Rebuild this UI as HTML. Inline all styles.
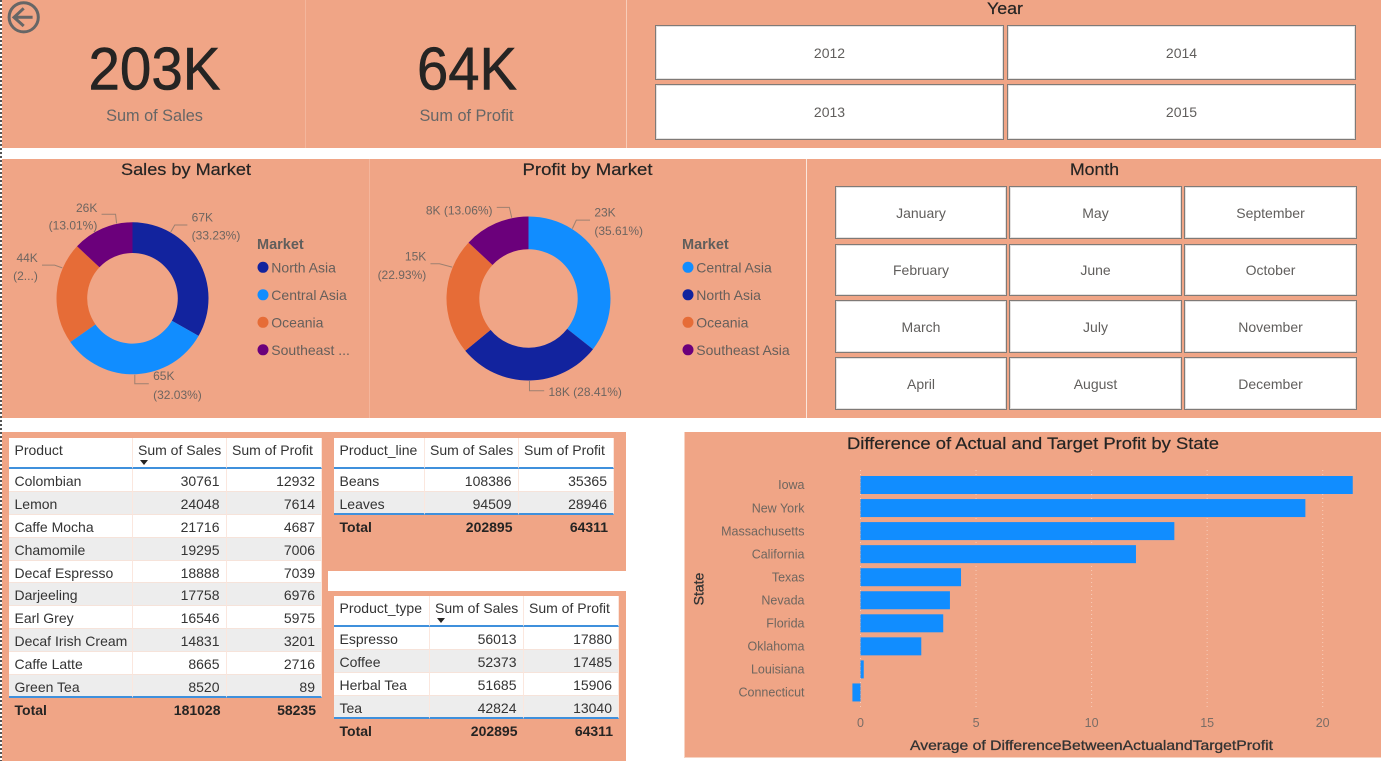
<!DOCTYPE html>
<html lang="en">
<head>
<meta charset="utf-8">
<title>Sales and Profit Dashboard</title>
<style>
html,body{margin:0;padding:0;background:#fff;}
body{width:1381px;height:761px;position:relative;overflow:hidden;font-family:"Liberation Sans",sans-serif;color:#252423;}
.abs{position:absolute;}
.panel{position:absolute;background:#F0A586;}
.btn{position:absolute;box-sizing:border-box;background:#fff;border:1px solid #7f7a77;box-shadow:inset 0 0 0 1px #e4e2e1;color:#605E5C;font-size:14px;display:flex;align-items:center;justify-content:center;padding:0;font-family:"Liberation Sans",sans-serif;}
svg.layer{position:absolute;overflow:visible;}
svg text{font-family:"Liberation Sans",sans-serif;}
.tbl{position:absolute;display:grid;font-size:14px;color:#333;}
.tr{display:contents;}
.tbl .c{box-sizing:border-box;white-space:nowrap;overflow:visible;padding:0 6px 0 5.5px;line-height:25px;border-right:1px solid #fbe7de;border-bottom:1px solid #f6e3da;background:#fff;}
.tbl .c.n{text-align:right;}
.tbl .h .c{background:#fff;border-bottom:2px solid #3f90dc;line-height:25px;position:relative;}
.tbl .g .c{background:#ededed;}
.tbl .l .c{border-bottom:2px solid #3f90dc;}
.tbl .t .c{background:transparent;border:0;font-weight:bold;color:#252423;line-height:24px;}
.arrow{position:absolute;width:0;height:0;border-left:4px solid transparent;border-right:4px solid transparent;border-top:5px solid #252423;}
.title{fill:#252423;stroke:#252423;stroke-width:.2px;}
.kpi{fill:#252423;stroke:#252423;stroke-width:.6px;}
</style>
</head>
<body>

<div class="abs" style="left:0;top:0;width:2px;height:761px;background:repeating-linear-gradient(to bottom,#555 0,#555 2px,#fff 2px,#fff 4px);"></div>

<div class="panel" style="left:2px;top:0;width:1379px;height:148px;"></div>
<div class="panel" style="left:2px;top:159px;width:1379px;height:259px;"></div>
<div class="panel" style="left:2px;top:432px;width:624px;height:329px;"></div>
<div class="abs" style="left:328px;top:571px;width:298px;height:20px;background:#fff;"></div>
<div class="panel" style="left:684px;top:432px;width:697px;height:326px;border-left:1px solid #f7d3c2;border-bottom:1px solid #f7d3c2;box-sizing:border-box;"></div>

<div class="abs" style="left:305px;top:0;width:1px;height:148px;background:#f4b69c;"></div>
<div class="abs" style="left:626px;top:0;width:1px;height:148px;background:#f8cdb9;"></div>
<div class="abs" style="left:369px;top:159px;width:1px;height:259px;background:#f4b69c;"></div>
<div class="abs" style="left:806px;top:159px;width:1px;height:259px;background:#fbe6dc;"></div>

<svg class="layer" style="left:0;top:0;" width="48" height="36" viewBox="0 0 48 36">
  <circle cx="23.7" cy="17.3" r="14.6" fill="none" stroke="#666" stroke-width="3"/>
  <path d="M32.6 17.3H13.8M23.7 8.3L14 17.3L23.7 26" fill="none" stroke="#666" stroke-width="3"/>
</svg>

<svg class="layer" style="left:0;top:0;pointer-events:none;" width="1381" height="761" viewBox="0 0 1381 761">
  <text class="kpi" x="88.5" y="89.5" font-size="60" textLength="132" lengthAdjust="spacingAndGlyphs">203K</text>
  <text x="154.5" y="121" font-size="16.3" fill="#666" text-anchor="middle">Sum of Sales</text>
  <text class="kpi" x="417" y="89.5" font-size="60" textLength="100" lengthAdjust="spacingAndGlyphs">64K</text>
  <text x="466.5" y="121" font-size="16.3" fill="#666" text-anchor="middle">Sum of Profit</text>
  <text class="title" x="987" y="14" font-size="17" textLength="36" lengthAdjust="spacingAndGlyphs">Year</text>
  <text class="title" x="121" y="175" font-size="17" textLength="130" lengthAdjust="spacingAndGlyphs">Sales by Market</text>
  <text class="title" x="522.5" y="175" font-size="17" textLength="130" lengthAdjust="spacingAndGlyphs">Profit by Market</text>
  <text class="title" x="1070" y="175" font-size="17" textLength="49" lengthAdjust="spacingAndGlyphs">Month</text>
  <text class="title" x="847" y="449" font-size="17" textLength="372" lengthAdjust="spacingAndGlyphs">Difference of Actual and Target Profit by State</text>
</svg>

<button class="btn" style="left:655px;top:25px;width:349px;height:55px;">2012</button>
<button class="btn" style="left:1007px;top:25px;width:349px;height:55px;">2014</button>
<button class="btn" style="left:655px;top:84px;width:349px;height:56px;">2013</button>
<button class="btn" style="left:1007px;top:84px;width:349px;height:56px;">2015</button>

<button class="btn" style="left:835px;top:186px;width:172px;height:53px;">January</button>
<button class="btn" style="left:1009px;top:186px;width:173px;height:53px;">May</button>
<button class="btn" style="left:1184px;top:186px;width:173px;height:53px;">September</button>
<button class="btn" style="left:835px;top:244px;width:172px;height:52px;">February</button>
<button class="btn" style="left:1009px;top:244px;width:173px;height:52px;">June</button>
<button class="btn" style="left:1184px;top:244px;width:173px;height:52px;">October</button>
<button class="btn" style="left:835px;top:300px;width:172px;height:53px;">March</button>
<button class="btn" style="left:1009px;top:300px;width:173px;height:53px;">July</button>
<button class="btn" style="left:1184px;top:300px;width:173px;height:53px;">November</button>
<button class="btn" style="left:835px;top:357px;width:172px;height:53px;">April</button>
<button class="btn" style="left:1009px;top:357px;width:173px;height:53px;">August</button>
<button class="btn" style="left:1184px;top:357px;width:173px;height:53px;">December</button>

<div class="tbl" style="left:9px;top:438px;width:313px;grid-template-columns:123.5px 94px 95.5px;grid-template-rows:31px repeat(10,22.9px) 24px;">
  <div class="tr h"><div class="c">Product</div><div class="c">Sum of Sales<span class="arrow" style="left:7px;top:22px;"></span></div><div class="c">Sum of Profit</div></div>
  <div class="tr"><div class="c">Colombian</div><div class="c n">30761</div><div class="c n">12932</div></div>
  <div class="tr g"><div class="c">Lemon</div><div class="c n">24048</div><div class="c n">7614</div></div>
  <div class="tr"><div class="c">Caffe Mocha</div><div class="c n">21716</div><div class="c n">4687</div></div>
  <div class="tr g"><div class="c">Chamomile</div><div class="c n">19295</div><div class="c n">7006</div></div>
  <div class="tr"><div class="c">Decaf Espresso</div><div class="c n">18888</div><div class="c n">7039</div></div>
  <div class="tr g"><div class="c">Darjeeling</div><div class="c n">17758</div><div class="c n">6976</div></div>
  <div class="tr"><div class="c">Earl Grey</div><div class="c n">16546</div><div class="c n">5975</div></div>
  <div class="tr g"><div class="c">Decaf Irish Cream</div><div class="c n">14831</div><div class="c n">3201</div></div>
  <div class="tr"><div class="c">Caffe Latte</div><div class="c n">8665</div><div class="c n">2716</div></div>
  <div class="tr g l"><div class="c">Green Tea</div><div class="c n">8520</div><div class="c n">89</div></div>
  <div class="tr t"><div class="c">Total</div><div class="c n">181028</div><div class="c n">58235</div></div>
</div>

<div class="tbl" style="left:334px;top:438px;width:280px;grid-template-columns:90.5px 94px 95.5px;grid-template-rows:31px 22.9px 22.9px 24px;">
  <div class="tr h"><div class="c">Product_line</div><div class="c">Sum of Sales</div><div class="c">Sum of Profit</div></div>
  <div class="tr"><div class="c">Beans</div><div class="c n">108386</div><div class="c n">35365</div></div>
  <div class="tr g l"><div class="c">Leaves</div><div class="c n">94509</div><div class="c n">28946</div></div>
  <div class="tr t"><div class="c">Total</div><div class="c n">202895</div><div class="c n">64311</div></div>
</div>

<div class="tbl" style="left:334px;top:596px;width:285px;grid-template-columns:95.5px 94px 95.5px;grid-template-rows:31px repeat(4,22.9px) 24px;">
  <div class="tr h"><div class="c">Product_type</div><div class="c">Sum of Sales<span class="arrow" style="left:7px;top:22px;"></span></div><div class="c">Sum of Profit</div></div>
  <div class="tr"><div class="c">Espresso</div><div class="c n">56013</div><div class="c n">17880</div></div>
  <div class="tr g"><div class="c">Coffee</div><div class="c n">52373</div><div class="c n">17485</div></div>
  <div class="tr"><div class="c">Herbal Tea</div><div class="c n">51685</div><div class="c n">15906</div></div>
  <div class="tr g l"><div class="c">Tea</div><div class="c n">42824</div><div class="c n">13040</div></div>
  <div class="tr t"><div class="c">Total</div><div class="c n">202895</div><div class="c n">64311</div></div>
</div>

<svg class="layer" id="sales-donut" style="left:0;top:159px;" width="369" height="259" viewBox="0 159 369 259"></svg>
<svg class="layer" id="profit-donut" style="left:370px;top:159px;" width="436" height="259" viewBox="370 159 436 259"></svg>
<svg class="layer" id="state-chart" style="left:684px;top:455px;" width="697" height="303" viewBox="684 455 697 303"></svg>

<script>
var salesMarkets = ['North Asia', 'Central Asia', 'Oceania', 'Southeast Asia'];
var salesLegendText = ['North Asia', 'Central Asia', 'Oceania', 'Southeast ...'];
var salesValues = [67420, 64987, 44089, 26397];
var salesLabels = [['67K', '(33.23%)'], ['65K', '(32.03%)'], ['44K', '(2...)'], ['26K', '(13.01%)']];
var salesColors = ['#12239E', '#118DFF', '#E66C37', '#6B007B'];

var profitMarkets = ['Central Asia', 'North Asia', 'Oceania', 'Southeast Asia'];
var profitValues = [22901, 18271, 14747, 8399];
var profitLabels = [['23K', '(35.61%)'], ['18K (28.41%)'], ['15K', '(22.93%)'], ['8K (13.06%)']];
var profitColors = ['#118DFF', '#12239E', '#E66C37', '#6B007B'];

var states = ['Iowa', 'New York', 'Massachusetts', 'California', 'Texas', 'Nevada', 'Florida', 'Oklahoma', 'Louisiana', 'Connecticut'];
var stateDifference = [21.3, 19.25, 13.58, 11.92, 4.35, 3.87, 3.58, 2.63, 0.14, -0.35];
var xTicks = [0, 5, 10, 15, 20];

var SVG_NS = 'http://www.w3.org/2000/svg';

function make(parent, tag, attrs, text) {
  var el = document.createElementNS(SVG_NS, tag);
  for (var k in attrs) el.setAttribute(k, attrs[k]);
  if (text !== undefined) el.textContent = text;
  parent.appendChild(el);
  return el;
}

function polar(cx, cy, r, deg) {
  var a = deg * Math.PI / 180;
  return [cx + r * Math.sin(a), cy - r * Math.cos(a)];
}

function arcPath(cx, cy, R, r, a0, a1) {
  var large = (a1 - a0) > 180 ? 1 : 0;
  var p0 = polar(cx, cy, R, a0), p1 = polar(cx, cy, R, a1);
  var p2 = polar(cx, cy, r, a1), p3 = polar(cx, cy, r, a0);
  return 'M' + p0[0] + ' ' + p0[1] + 'A' + R + ' ' + R + ' 0 ' + large + ' 1 ' + p1[0] + ' ' + p1[1] +
    'L' + p2[0] + ' ' + p2[1] + 'A' + r + ' ' + r + ' 0 ' + large + ' 0 ' + p3[0] + ' ' + p3[1] + 'Z';
}

function drawDonut(svg, cfg) {
  var total = cfg.values.reduce(function (a, b) { return a + b; }, 0);
  var angle = 0;
  cfg.values.forEach(function (v, i) {
    var sweep = v / total * 360;
    var slice = make(svg, 'path', { d: arcPath(cfg.cx, cfg.cy, cfg.R, cfg.r, angle, angle + sweep), fill: cfg.colors[i] });
    
    

    var lay = cfg.leaders[i];
    var a = polar(cfg.cx, cfg.cy, cfg.R + 0.5, angle + sweep / 2 + lay.da);
    var ex = a[0] + lay.ex, ey = a[1] + lay.ey, endX = ex + lay.run;
    var leader = make(svg, 'path', { d: 'M' + a[0] + ' ' + a[1] + 'L' + ex + ' ' + ey + 'L' + endX + ' ' + ey, fill: 'none', stroke: '#9d8070', 'stroke-width': 1 });
    
    

    var right = lay.run < 0;
    cfg.labels[i].forEach(function (line, j) {
      var label = make(svg, 'text', {
        x: endX + (right ? -4.2 : 4.3),
        y: ey + lay.dy[j] + 4.3,
        'font-size': 12,
        fill: '#6e6560',
        'text-anchor': right ? 'end' : 'start'
      }, line);
      
      
    });
    angle += sweep;
  });

  var legendTitle = make(svg, 'text', { x: cfg.legendX - 6, y: 249, 'font-size': 14.5, 'font-weight': 'bold', fill: '#605E5C' }, 'Market');
  
  

  cfg.legend.forEach(function (name, i) {
    var cy = 267.3 + i * 27.5;
    var dot = make(svg, 'circle', { cx: cfg.legendX, cy: cy, r: 5.5, fill: cfg.colors[i] });
    
    
    var txt = make(svg, 'text', { x: cfg.legendX + 8.3, y: cy + 5, 'font-size': 14, fill: '#665f5b' }, name);
    
    
  });
}

drawDonut(document.getElementById('sales-donut'), {
  cx: 132.5, cy: 298.3, R: 76, r: 45.3, legendX: 263,
  values: salesValues, colors: salesColors, names: salesMarkets, labels: salesLabels, legend: salesLegendText,
  leaders: [
    { da: -29.8, ex: 4, ey: -7, run: 12.6, dy: [-8, 10.3] },
    { da: 1, ex: 0, ey: 9, run: 14, dy: [-8, 10.7] },
    { da: 19.4, ex: -7.7, ey: -2.7, run: -12.6, dy: [-7.6, 10.7] },
    { da: 11.4, ex: -1, ey: -9.2, run: -14, dy: [-6.6, 10.7] }
  ]
});

drawDonut(document.getElementById('profit-donut'), {
  cx: 528.5, cy: 298.5, R: 82, r: 49.2, legendX: 688,
  values: profitValues, colors: profitColors, names: profitMarkets, labels: profitLabels, legend: profitMarkets,
  leaders: [
    { da: -32, ex: 4, ey: -8.5, run: 13.7, dy: [-7.7, 10.7] },
    { da: 0, ex: 0, ey: 9.7, run: 14.7, dy: [1] },
    { da: 20.6, ex: -12.7, ey: -3.4, run: -9, dy: [-7.6, 10.7] },
    { da: 11.8, ex: -2.4, ey: -10.4, run: -12.6, dy: [2.7] }
  ]
});

function xScale(v) { return 860.5 + v * 23.11; }
function yBand(i) { return 476 + i * 23.05; }

(function drawBars() {
  var svg = document.getElementById('state-chart');

  xTicks.forEach(function (t) {
    var grid = make(svg, 'line', { x1: xScale(t), x2: xScale(t), y1: 470, y2: 708, stroke: '#f8cdb9', 'stroke-width': 1, 'stroke-dasharray': '1 3' });
    
    
    var tick = make(svg, 'text', { x: xScale(t), y: 727, 'font-size': 12.5, fill: '#7a6d66', 'text-anchor': 'middle' }, String(t));
    
    
  });

  stateDifference.forEach(function (v, i) {
    var x0 = xScale(Math.min(0, v)), x1 = xScale(Math.max(0, v));
    var bar = make(svg, 'rect', { x: x0, y: yBand(i), width: x1 - x0, height: 18, fill: '#118DFF' });
    
    
    var lab = make(svg, 'text', { x: 804.5, y: yBand(i) + 13.2, 'font-size': 12.5, fill: '#6f665f', 'text-anchor': 'end' }, states[i]);
    
    
  });

  var xTitle = make(svg, 'text', { x: 910, y: 750, 'font-size': 14, fill: '#333', stroke: '#333', 'stroke-width': 0.3, textLength: 363, lengthAdjust: 'spacingAndGlyphs' }, 'Average of DifferenceBetweenActualandTargetProfit');
  
  

  var yTitle = make(svg, 'text', { x: 0, y: 0, 'font-size': 14, fill: '#333', stroke: '#333', 'stroke-width': 0.3, 'text-anchor': 'middle', transform: 'translate(703.5 589) rotate(-90)' }, 'State');
  
  
})();
</script>
</body>
</html>
